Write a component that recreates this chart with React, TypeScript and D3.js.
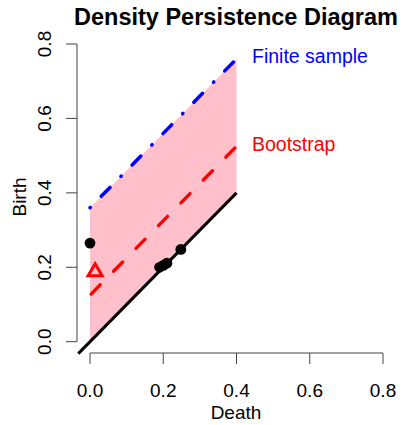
import React from "react";
import * as d3 from "d3";

const xTicks = [0, 0.2, 0.4, 0.6, 0.8];
const yTicks = [0, 0.2, 0.4, 0.6, 0.8];
const deathVals = [0, 0.19, 0.2, 0.21, 0.248];
const birthVals = [0.265, 0.2, 0.205, 0.211, 0.248];
const bootPoint = [0.014, 0.188];
const finiteBand = 0.36;
const bootBand = 0.125;
const diagStart = -0.032;
const bandEnd = 0.4;

export default function App() {
  const W = 404, H = 425;
  const x = d3.scaleLinear().domain([0, 0.8]).range([90, 383]);
  const y = d3.scaleLinear().domain([0, 0.8]).range([341.7, 44]);
  const font = "'Liberation Sans', Arial, Helvetica, sans-serif";

  const area = d3.area<number>()
    .x((d) => x(d))
    .y0((d) => y(d))
    .y1((d) => y(d + finiteBand));
  const line = d3.line<[number, number]>().x((d) => x(d[0])).y((d) => y(d[1]));

  const tri = d3.symbol().type(d3.symbolTriangle).size(85)();

  return (
    <svg width={W} height={H} style={{ position: "absolute", left: 0, top: 0 }} fontFamily={font}>
      <rect width={W} height={H} fill="white" />
      <path d={area([0, bandEnd]) || ""} fill="#FFC0CB" />
      <path d={line([[diagStart, diagStart], [bandEnd, bandEnd]]) || ""} stroke="black" strokeWidth={3} fill="none" />
      <path d={line([[0, finiteBand], [bandEnd, bandEnd + finiteBand]]) || ""} stroke="blue" strokeWidth={3.5} strokeLinecap="round" strokeDasharray="0.5,15.5,12.5,15.5" fill="none" />
      <path d={line([[0, bootBand], [bandEnd, bandEnd + bootBand]]) || ""} stroke="red" strokeWidth={3.3} strokeLinecap="round" strokeDasharray="13,19" strokeDashoffset={-1.6} fill="none" />
      {deathVals.map((d, i) => (
        <circle key={i} cx={x(d)} cy={y(birthVals[i])} r={5.4} fill="black" />
      ))}
      <path d={tri || ""} transform={`translate(${x(bootPoint[0])},${y(bootPoint[1])})`} fill="none" stroke="red" strokeWidth={3} />
      {/* x axis */}
      <line x1={x(0)} x2={x(0.8)} y1={353} y2={353} stroke="#444" strokeWidth={1} />
      {xTicks.map((t) => (
        <g key={t}>
          <line x1={x(t)} x2={x(t)} y1={353} y2={364} stroke="#444" />
          <text x={x(t)} y={397} fontSize={19} textAnchor="middle">{t.toFixed(1)}</text>
        </g>
      ))}
      <text x={236} y={419} fontSize={19} textAnchor="middle">Death</text>
      {/* y axis */}
      <line x1={77} x2={77} y1={y(0)} y2={y(0.8)} stroke="#444" />
      {yTicks.map((t) => (
        <g key={t}>
          <line x1={66} x2={77} y1={y(t)} y2={y(t)} stroke="#444" />
          <text transform={`translate(50.5,${y(t)}) rotate(-90)`} fontSize={19} textAnchor="middle">{t.toFixed(1)}</text>
        </g>
      ))}
      <text transform={`translate(25.5,197) rotate(-90)`} fontSize={19} textAnchor="middle">Birth</text>
      <text x={236} y={25} fontSize={23.5} fontWeight="bold" textAnchor="middle">Density Persistence Diagram</text>
      <text x={252} y={62.5} fontSize={19.5} fill="blue">Finite sample</text>
      <text x={252} y={151} fontSize={19.5} fill="red">Bootstrap</text>
    </svg>
  );
}
